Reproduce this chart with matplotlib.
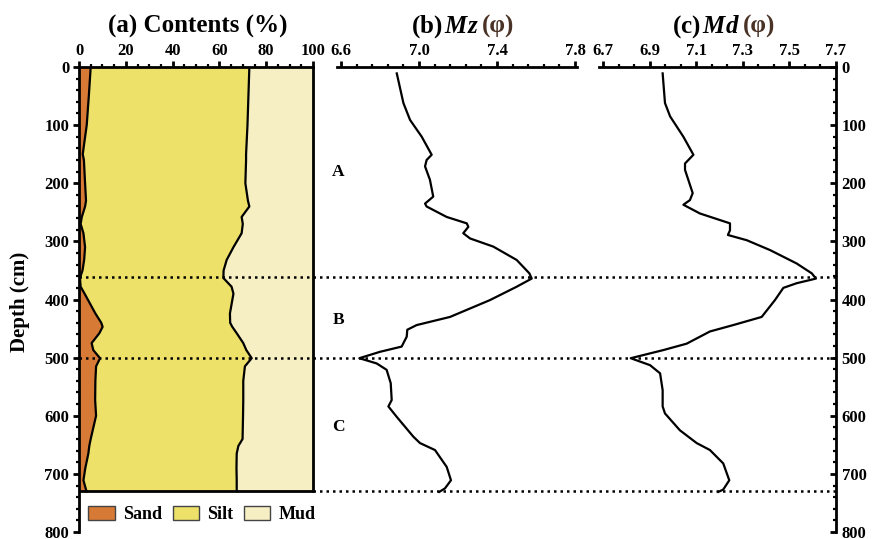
import matplotlib
matplotlib.use('Agg')
import matplotlib.pyplot as plt
from matplotlib.patches import Patch
from matplotlib.ticker import MultipleLocator, AutoMinorLocator
from matplotlib.transforms import blended_transform_factory
import numpy as np

plt.rcParams['font.family'] = ['Liberation Serif', 'DejaVu Serif']
plt.rcParams['font.weight'] = 'bold'
plt.rcParams['mathtext.fontset'] = 'custom'
plt.rcParams['mathtext.it'] = 'Liberation Serif:italic:bold'
plt.rcParams['mathtext.rm'] = 'Liberation Serif:bold'

# ── 配色 ──
SAND = '#D67A35'
SILT = '#EEE16A'
MUD  = '#F6EFC4'
PHI  = '#4A3326'

# ── 資料 ──
depth_a = [0, 50, 100, 150, 160, 200, 230, 240, 258, 270, 286, 310, 332, 350,
           363, 378, 390, 424, 440, 447, 458, 475, 487, 501, 515, 540, 573,
           600, 640, 652, 665, 690, 711, 730]
sand_pct = [5.0, 4.2, 3.3, 1.6, 2.1, 2.6, 3.0, 2.6, 1.2, 0.7, 1.9, 2.6, 2.2, 1.5,
            0.4, 0.7, 2.4, 7.0, 9.5, 10.1, 8.7, 5.4, 6.1, 9.0, 7.3, 7.0, 6.9,
            7.3, 5.0, 4.4, 4.0, 2.7, 1.9, 3.2]
sand_silt_pct = [72.8, 72.4, 72.0, 71.4, 71.4, 71.1, 72.2, 72.8, 69.5, 70.0, 69.5,
                 66.0, 63.1, 61.8, 61.7, 65.2, 66.0, 64.5, 64.6, 65.5, 67.4, 70.2,
                 71.5, 73.8, 70.9, 70.2, 70.2, 70.1, 69.9, 68.1, 67.4, 67.3, 67.4,
                 67.4]

depth_mz = [11, 62, 91, 120, 151, 160, 171, 194, 223, 235, 240, 258, 269, 275,
            286, 295, 309, 332, 355, 364, 378, 401, 430, 444, 452, 464, 481, 490,
            501, 510, 521, 544, 573, 584, 602, 636, 647, 659, 688, 711, 725, 731]
mz = [6.886, 6.92, 6.954, 7.014, 7.065, 7.039, 7.031, 7.056, 7.073, 7.031, 7.039,
      7.142, 7.245, 7.253, 7.227, 7.262, 7.381, 7.501, 7.566, 7.578, 7.501, 7.364,
      7.159, 6.988, 6.94, 6.937, 6.911, 6.80, 6.694, 6.783, 6.834, 6.855, 6.86,
      6.843, 6.886, 6.971, 7.005, 7.082, 7.142, 7.164, 7.133, 7.104]

depth_md = [11, 62, 85, 120, 151, 166, 177, 217, 229, 237, 252, 269, 281, 289,
            298, 315, 338, 355, 364, 372, 380, 401, 430, 444, 455, 476, 487, 501,
            513, 527, 556, 584, 596, 625, 647, 659, 682, 711, 727, 731]
md = [6.956, 6.966, 6.988, 7.045, 7.088, 7.052, 7.052, 7.085, 7.073, 7.045, 7.116,
      7.245, 7.245, 7.236, 7.317, 7.417, 7.531, 7.596, 7.614, 7.531, 7.474, 7.438,
      7.381, 7.259, 7.159, 7.059, 6.959, 6.819, 6.902, 6.945, 6.956, 6.956, 6.966,
      7.03, 7.102, 7.159, 7.216, 7.242, 7.216, 7.195]

zone_bounds = [362, 500, 730]
zone_names = ['A', 'B', 'C']
zone_label_depth = [180, 435, 620]

W, H = 874, 539
fig = plt.figure(figsize=(W / 100, H / 100), dpi=100, facecolor='white')


def box(x0, x1, y0=67, y1=532):
    return [x0 / W, 1 - y1 / H, (x1 - x0) / W, (y1 - y0) / H]


def style_ticks(ax):
    ax.tick_params(which='major', width=2, length=4, labelsize=12, pad=2)
    ax.tick_params(which='minor', width=1.6, length=2.5)


# ── (a) 含量 ──
ax_a = fig.add_axes(box(79, 313))
ax_a.fill_betweenx(depth_a, 0, sand_pct, color=SAND, lw=0)
ax_a.fill_betweenx(depth_a, sand_pct, sand_silt_pct, color=SILT, lw=0)
ax_a.fill_betweenx(depth_a, sand_silt_pct, 100, color=MUD, lw=0)
ax_a.plot(sand_pct, depth_a, color='k', lw=1.6)
ax_a.plot(sand_silt_pct, depth_a, color='k', lw=1.6)
ax_a.set_xlim(0, 100)
ax_a.set_ylim(800, 0)
ax_a.axhline(730, xmin=0, xmax=1, color='k', lw=2)
ax_a.spines['bottom'].set_visible(False)
ax_a.spines['right'].set_bounds(0, 730)
for s in ('top', 'left', 'right'):
    ax_a.spines[s].set_linewidth(2)
ax_a.xaxis.tick_top()
ax_a.xaxis.set_major_locator(MultipleLocator(20))
ax_a.xaxis.set_minor_locator(MultipleLocator(5))
ax_a.yaxis.set_major_locator(MultipleLocator(100))
ax_a.yaxis.set_minor_locator(MultipleLocator(20))
style_ticks(ax_a)
ax_a.tick_params(axis='y', which='both', right=False, pad=3)
ax_a.patch.set_alpha(0)

handles = [Patch(facecolor=SAND, edgecolor='#444', lw=1, label='Sand'),
           Patch(facecolor=SILT, edgecolor='#444', lw=1, label='Silt'),
           Patch(facecolor=MUD, edgecolor='#444', lw=1, label='Mud')]
ax_a.legend(handles=handles, ncol=3, loc='center', bbox_to_anchor=(0.525, 0.037),
            frameon=False, fontsize=13, handlelength=1.45, handleheight=0.8,
            handletextpad=0.45, columnspacing=0.6, borderpad=0.2)

# ── (b) Mz ──
ax_b = fig.add_axes(box(337, 577))
ax_b.plot(mz, depth_mz, color='k', lw=1.6)
ax_b.set_xlim(6.6 - 4 / 195, 7.8 + 2 / 195)
ax_b.set_ylim(800, 0)
for s in ('bottom', 'left', 'right'):
    ax_b.spines[s].set_visible(False)
ax_b.spines['top'].set_linewidth(2)
ax_b.xaxis.tick_top()
ax_b.set_xticks([6.6, 7.0, 7.4, 7.8])
ax_b.xaxis.set_minor_locator(AutoMinorLocator(5))
ax_b.set_yticks([])
style_ticks(ax_b)
ax_b.patch.set_alpha(0)

tr = blended_transform_factory(ax_b.transAxes, ax_b.transData)
for name, d in zip(zone_names, zone_label_depth):
    ax_b.text(0.005, d, name, transform=tr, ha='center', va='center',
              fontsize=12.5, fontweight='bold')

# ── (c) Md ──
ax_c = fig.add_axes(box(599, 836))
ax_c.plot(md, depth_md, color='k', lw=1.6)
ax_c.set_xlim(6.7 - 4 / 233, 7.7)
ax_c.set_ylim(800, 0)
for s in ('bottom', 'left'):
    ax_c.spines[s].set_visible(False)
for s in ('top', 'right'):
    ax_c.spines[s].set_linewidth(2)
ax_c.xaxis.tick_top()
ax_c.set_xticks([6.7, 6.9, 7.1, 7.3, 7.5, 7.7])
ax_c.xaxis.set_minor_locator(AutoMinorLocator(3))
ax_c.yaxis.tick_right()
ax_c.yaxis.set_major_locator(MultipleLocator(100))
ax_c.yaxis.set_minor_locator(MultipleLocator(20))
style_ticks(ax_c)
ax_c.tick_params(axis='y', which='both', direction='in', pad=4)
ax_c.patch.set_alpha(0)

# ── 分區虛線 ──
ax_ov = fig.add_axes(box(79, 836))
ax_ov.set_xlim(0, 1)
ax_ov.set_ylim(800, 0)
ax_ov.axis('off')
x_a_right = (313 - 79) / (836 - 79)
for d in zone_bounds:
    x0 = x_a_right if d == zone_bounds[-1] else 0
    ax_ov.hlines(d, x0, 1, color='k', lw=1.8, linestyles=(0, (1, 1.6)))

# ── 標題 ──
TITLE_BASE = 1 - 33 / H
fig.text(198 / W, TITLE_BASE, '(a) Contents (%)', ha='center', va='baseline',
         fontsize=18, fontweight='bold')
renderer = fig.canvas.get_renderer()
for x0, lab in [(411, r'(b)$\,\mathit{Mz}$'), (672, r'(c)$\,\mathit{Md}$')]:
    t = fig.text(x0 / W, TITLE_BASE, lab, ha='left', va='baseline',
                 fontsize=18, fontweight='bold')
    x_end = (t.get_window_extent(renderer).x1 + 3) / fig.bbox.width
    fig.text(x_end, TITLE_BASE, '(φ)', ha='left', va='baseline',
             fontsize=18, fontweight='bold', color=PHI)

fig.text(20 / W, 1 - 302 / H, 'Depth (cm)', rotation=90, ha='center', va='center',
         fontsize=15, fontweight='bold')

fig.savefig('out.png', dpi=100, facecolor='white')
